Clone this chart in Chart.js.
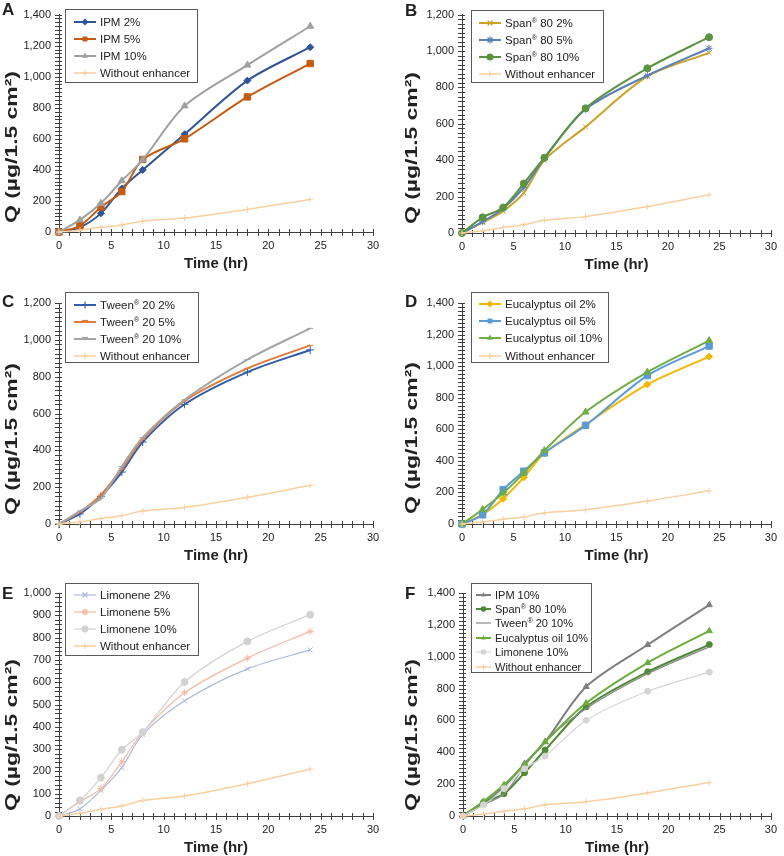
<!DOCTYPE html>
<html>
<head>
<meta charset="utf-8">
<title>Cumulative permeation</title>
<script src="https://cdn.jsdelivr.net/npm/chart.js@4.4.1/dist/chart.umd.min.js"></script>
<style>
  body { margin: 0; background: #fff; }
  #page { position: relative; width: 784px; height: 856px; overflow: hidden; font-family: "Liberation Sans", Arial, sans-serif; color: #222; }
  .panel { position: absolute; }
  .letter { position: absolute; font-size: 17px; font-weight: bold; line-height: 1; }
  .legend { position: absolute; box-sizing: border-box; border: 1px solid #5a5a5a; background: #fff; font-size: 11.5px; color: #222; }
  .legend .item { display: flex; align-items: center; white-space: nowrap; }
  .legend svg { flex: none; margin-right: 4px; }
  .legend sup { font-size: 7px; vertical-align: 4px; line-height: 0; }
</style>
</head>
<body>
<div id="page"></div>
<script>
// sampling times (hr)
var hours = [0, 2, 4, 6, 8, 12, 18, 24];

// Q (ug/1.5 cm2)
var noEnhancer = [0, 12, 30, 45, 70, 90, 145, 210];
var ipm2 = [0, 30, 120, 280, 400, 630, 975, 1190];
var ipm5 = [0, 40, 160, 260, 467, 600, 870, 1085];
var ipm10 = [0, 78, 185, 330, 465, 812, 1075, 1325];
var span2 = [0, 58, 120, 220, 400, 583, 860, 990];
var span5 = [0, 62, 135, 250, 410, 680, 865, 1015];
var span10 = [0, 86, 140, 272, 414, 685, 905, 1076];
var tween2 = [0, 55, 150, 282, 445, 650, 825, 945];
var tween5 = [0, 65, 158, 300, 460, 668, 845, 970];
var tween10 = [0, 70, 140, 312, 470, 675, 893, 1062];
var euc2 = [0, 60, 160, 295, 448, 630, 884, 1060];
var euc5 = [0, 58, 218, 335, 450, 625, 940, 1127];
var euc10 = [0, 92, 196, 322, 465, 709, 962, 1162];
var lim2 = [0, 32, 115, 217, 366, 517, 660, 745];
var lim5 = [0, 64, 123, 243, 376, 553, 708, 828];
var lim10 = [0, 70, 172, 297, 376, 601, 783, 903];

var xTicks = { max: 30, step: 5, minor: 1 };

var peach = '#f8d0a0';
var without = { label: 'Without enhancer', values: noEnhancer, color: peach, marker: 'cross', size: 3, width: 1.5 };

// panel layout (page pixels); area = chart area inside the panel
var panels = [
  { letter: 'A', left: 0, top: 0, area: [59, 12, 373, 232], yMax: 1400, yStep: 200, yMinor: 25,
    titleX: 13, titleY: 147, letterPos: [2, 1], legendBox: [65, 9, 133, 74], padTop: 3.9, padLeft: 8, rowH: 17, sample: 22,
    series: [
      { label: 'IPM 2%', values: ipm2, color: '#2f5597', marker: 'rectRot', size: 3.5, width: 2 },
      { label: 'IPM 5%', values: ipm5, color: '#c55a11', marker: 'rect', size: 4.5, width: 2 },
      { label: 'IPM 10%', values: ipm10, color: '#a0a0a0', marker: 'triangle', size: 4, width: 2 },
      without
    ] },
  { letter: 'B', left: 392, top: 0, area: [70, 11, 386, 233], yMax: 1200, yStep: 200, yMinor: 25,
    titleX: 21, titleY: 148, letterPos: [13, 2], legendBox: [471, 10, 133, 73], padTop: 3.2, padLeft: 7, rowH: 17, sample: 22,
    series: [
      { label: 'Span® 80 2%', values: span2, color: '#c9a227', marker: 'crossRot', size: 3.5, width: 2 },
      { label: 'Span® 80 5%', values: span5, color: '#5b7fb8', marker: 'star', size: 3.5, width: 2 },
      { label: 'Span® 80 10%', values: span10, color: '#5a9440', marker: 'circle', size: 3.5, width: 2 },
      without
    ] },
  { letter: 'C', left: 0, top: 280, area: [59, 23, 373, 244], yMax: 1200, yStep: 200, yMinor: 25,
    titleX: 13, titleY: 159, letterPos: [2, 293], legendBox: [65, 292, 134, 71], padTop: 3.5, padLeft: 8, rowH: 16.9, sample: 22,
    series: [
      { label: 'Tween® 20 2%', values: tween2, color: '#2f5da8', marker: 'cross', size: 4, width: 2 },
      { label: 'Tween® 20 5%', values: tween5, color: '#e07b39', marker: 'line', size: 3, width: 2 },
      { label: 'Tween® 20 10%', values: tween10, color: '#a5a5a5', marker: 'line', size: 3, width: 2 },
      without
    ] },
  { letter: 'D', left: 392, top: 280, area: [70, 23, 386, 244], yMax: 1400, yStep: 200, yMinor: 25,
    titleX: 21, titleY: 158, letterPos: [13, 293], legendBox: [471, 292, 138, 71], padTop: 2.4, padLeft: 7, rowH: 17.2, sample: 22,
    series: [
      { label: 'Eucalyptus oil 2%', values: euc2, color: '#f2b800', marker: 'rectRot', size: 3.5, width: 2 },
      { label: 'Eucalyptus oil 5%', values: euc5, color: '#5b9bd5', marker: 'rect', size: 4.5, width: 2 },
      { label: 'Eucalyptus oil 10%', values: euc10, color: '#70ad47', marker: 'triangle', size: 4, width: 2 },
      without
    ] },
  { letter: 'E', left: 0, top: 560, area: [59, 33, 373, 256], yMax: 1000, yStep: 100, yMinor: 20,
    titleX: 13, titleY: 175, letterPos: [2, 585], legendBox: [65, 583, 134, 73], padTop: 2, padLeft: 8, rowH: 17.2, sample: 22,
    series: [
      { label: 'Limonene 2%', values: lim2, color: '#a9b9df', marker: 'crossRot', size: 3.5, width: 1.2 },
      { label: 'Limonene 5%', values: lim5, color: '#f4b9a2', marker: 'star', size: 3.5, width: 1.2 },
      { label: 'Limonene 10%', values: lim10, color: '#d2d2d2', marker: 'circle', size: 3.5, width: 1.2 },
      without
    ] },
  { letter: 'F', left: 392, top: 560, area: [71, 33, 386, 256], yMax: 1400, yStep: 200, yMinor: 25,
    titleX: 21, titleY: 175, letterPos: [13, 585], legendBox: [471, 583, 121, 90], padTop: 3.4, padLeft: 4, rowH: 14.4, sample: 15,
    series: [
      { label: 'IPM 10%', values: ipm10, color: '#7f7f7f', marker: 'triangle', size: 3.5, width: 2 },
      { label: 'Span® 80 10%', values: span10, color: '#4e8a35', marker: 'circle', size: 3, width: 2 },
      { label: 'Tween® 20 10%', values: tween10, color: '#8a8a8a', marker: false, size: 0, width: 1.2 },
      { label: 'Eucalyptus oil 10%', values: euc10, color: '#6aad3d', marker: 'triangle', size: 3.5, width: 2 },
      { label: 'Limonene 10%', values: lim10, color: '#d5d5d5', marker: 'circle', size: 3, width: 1.2 },
      without
    ] }
];

var fontFamily = '"Liberation Sans", Arial, sans-serif';
var axisColor = '#404040';
var panelW = 392;

// small crossing tick marks on both axes (major and minor)
var tickMarks = {
  id: 'tickMarks',
  beforeDatasetsDraw: function (chart, args, opts) {
    var ctx = chart.ctx, xs = chart.scales.x, ys = chart.scales.y;
    var v, p;
    ctx.save();
    ctx.strokeStyle = axisColor;
    ctx.lineWidth = 1;
    ctx.beginPath();
    for (v = xs.min; v <= xs.max + 1e-9; v += opts.xMinor) {
      p = Math.round(xs.getPixelForValue(v)) + 0.5;
      ctx.moveTo(p, ys.bottom - 3);
      ctx.lineTo(p, ys.bottom + 4);
    }
    for (v = ys.min; v <= ys.max + 1e-9; v += opts.yMinor) {
      p = Math.round(ys.getPixelForValue(v)) + 0.5;
      ctx.moveTo(xs.left - 4, p);
      ctx.lineTo(xs.left + 3, p);
    }
    ctx.stroke();
    ctx.restore();
  }
};

// y-axis title, drawn long like the original (text taken from the y scale options)
var yTitle = {
  id: 'yTitle',
  afterDraw: function (chart, args, opts) {
    var t = chart.options.scales.y.title;
    var ctx = chart.ctx;
    ctx.save();
    ctx.font = 'bold 16px ' + fontFamily;
    var w = ctx.measureText(t.text).width;
    ctx.translate(opts.x, opts.y);
    ctx.rotate(-Math.PI / 2);
    ctx.scale(opts.length / w, 1);
    ctx.fillStyle = t.color;
    ctx.textAlign = 'center';
    ctx.textBaseline = 'middle';
    ctx.fillText(t.text, 0, 0);
    ctx.restore();
  }
};

function markerSvg(m, color, cx, cy, r, lw) {
  var s, a;
  if (!m) return '';
  if (m === 'circle') return '<circle cx="' + cx + '" cy="' + cy + '" r="' + r + '" fill="' + color + '"/>';
  if (m === 'rect') {
    s = r * Math.SQRT1_2;
    return '<rect x="' + (cx - s) + '" y="' + (cy - s) + '" width="' + 2 * s + '" height="' + 2 * s + '" fill="' + color + '"/>';
  }
  if (m === 'rectRot') return '<polygon points="' + cx + ',' + (cy - r) + ' ' + (cx + r) + ',' + cy + ' ' + cx + ',' + (cy + r) + ' ' + (cx - r) + ',' + cy + '" fill="' + color + '"/>';
  if (m === 'triangle') {
    a = r * Math.sin(Math.PI / 3);
    return '<polygon points="' + cx + ',' + (cy - r) + ' ' + (cx + a) + ',' + (cy + r / 2) + ' ' + (cx - a) + ',' + (cy + r / 2) + '" fill="' + color + '"/>';
  }
  var st = ' stroke="' + color + '" stroke-width="' + lw + '"';
  var plus = '<line x1="' + cx + '" y1="' + (cy - r) + '" x2="' + cx + '" y2="' + (cy + r) + '"' + st + '/>' +
             '<line x1="' + (cx - r) + '" y1="' + cy + '" x2="' + (cx + r) + '" y2="' + cy + '"' + st + '/>';
  s = r * Math.SQRT1_2;
  var ex = '<line x1="' + (cx - s) + '" y1="' + (cy - s) + '" x2="' + (cx + s) + '" y2="' + (cy + s) + '"' + st + '/>' +
           '<line x1="' + (cx - s) + '" y1="' + (cy + s) + '" x2="' + (cx + s) + '" y2="' + (cy - s) + '"' + st + '/>';
  if (m === 'cross') return plus;
  if (m === 'crossRot') return ex;
  if (m === 'star') return plus + ex;
  if (m === 'line') return '<line x1="' + (cx - r) + '" y1="' + (cy - 1.5) + '" x2="' + (cx + r) + '" y2="' + (cy - 1.5) + '"' + st + '/>';
  return '';
}

function buildLegend(p, page) {
  var box = document.createElement('div');
  box.className = 'legend';
  box.style.left = p.legendBox[0] + 'px';
  box.style.top = p.legendBox[1] + 'px';
  box.style.width = p.legendBox[2] + 'px';
  box.style.height = p.legendBox[3] + 'px';
  box.style.paddingTop = p.padTop + 'px';
  box.style.paddingLeft = p.padLeft + 'px';
  if (p.letter === 'F') box.style.fontSize = '11px';
  p.series.forEach(function (s) {
    var row = document.createElement('div');
    row.className = 'item';
    row.style.height = p.rowH + 'px';
    var h = 12, cy = 6, L = p.sample;
    var svg = '<svg width="' + L + '" height="' + h + '">' +
      '<line x1="0" y1="' + cy + '" x2="' + L + '" y2="' + cy + '" stroke="' + s.color + '" stroke-width="' + s.width + '"/>' +
      markerSvg(s.marker, s.color, L / 2, cy, p.letter === 'F' ? Math.min(s.size, 2.8) : Math.min(s.size, 3.5), 1.2) + '</svg>';
    row.innerHTML = svg + '<span>' + s.label.replace('®', '<sup>®</sup>') + '</span>';
    box.appendChild(row);
  });
  page.appendChild(box);
}

function buildPanel(p) {
  var page = document.getElementById('page');
  var w = panelW, h = p.area[3] + 48;
  var wrap = document.createElement('div');
  wrap.className = 'panel';
  wrap.style.left = p.left + 'px';
  wrap.style.top = p.top + 'px';
  wrap.style.width = w + 'px';
  wrap.style.height = h + 'px';
  var canvas = document.createElement('canvas');
  canvas.width = w;
  canvas.height = h;
  wrap.appendChild(canvas);
  page.appendChild(wrap);

  var letter = document.createElement('div');
  letter.className = 'letter';
  letter.textContent = p.letter;
  letter.style.left = p.letterPos[0] + p.left + 'px';
  letter.style.top = p.letterPos[1] + 'px';
  page.appendChild(letter);

  var datasets = p.series.map(function (s) {
    return {
      label: s.label,
      data: hours.map(function (hr, i) { return { x: hr, y: s.values[i] }; }),
      borderColor: s.color,
      backgroundColor: s.color,
      borderWidth: s.width,
      pointStyle: s.marker,
      pointRadius: s.marker ? s.size : 0,
      pointBorderWidth: 1,
      pointBorderColor: s.color,
      pointBackgroundColor: s.color,
      tension: 0.3,
      clip: false
    };
  });
  // draw the "without enhancer" line under the others
  datasets.reverse();

  new Chart(canvas, {
    type: 'line',
    data: { datasets: datasets },
    options: {
      responsive: false,
      animation: false,
      events: [],
      layout: { padding: { left: 0, top: p.area[1], right: w - p.area[2], bottom: 0 } },
      plugins: {
        legend: { display: false },
        tooltip: { enabled: false },
        tickMarks: { xMinor: xTicks.minor, yMinor: p.yMinor },
        yTitle: { x: p.titleX, y: p.titleY, length: 152 }
      },
      scales: {
        x: {
          type: 'linear',
          min: 0,
          max: xTicks.max,
          grid: { display: false, drawTicks: false },
          border: { display: true, color: axisColor, width: 1 },
          ticks: { stepSize: xTicks.step, padding: 7, color: '#222', font: { family: fontFamily, size: 11 } },
          title: { display: true, text: 'Time (hr)', color: '#222', font: { family: fontFamily, size: 15, weight: 'bold' }, padding: { top: 0, bottom: 7 } },
          afterFit: function (s) { s.height = h - p.area[3]; }
        },
        y: {
          type: 'linear',
          min: 0,
          max: p.yMax,
          grid: { display: false, drawTicks: false },
          border: { display: true, color: axisColor, width: 1 },
          ticks: {
            stepSize: p.yStep, padding: 8, color: '#222', font: { family: fontFamily, size: 11 },
            callback: function (v) { return v.toLocaleString('en-US'); }
          },
          title: { display: false, text: 'Q (µg/1.5 cm²)', color: '#222' },
          afterFit: function (s) { s.width = p.area[0]; }
        }
      }
    },
    plugins: [tickMarks, yTitle]
  });

  buildLegend(p, page);
}

panels.forEach(buildPanel);
</script>
</body>
</html>
